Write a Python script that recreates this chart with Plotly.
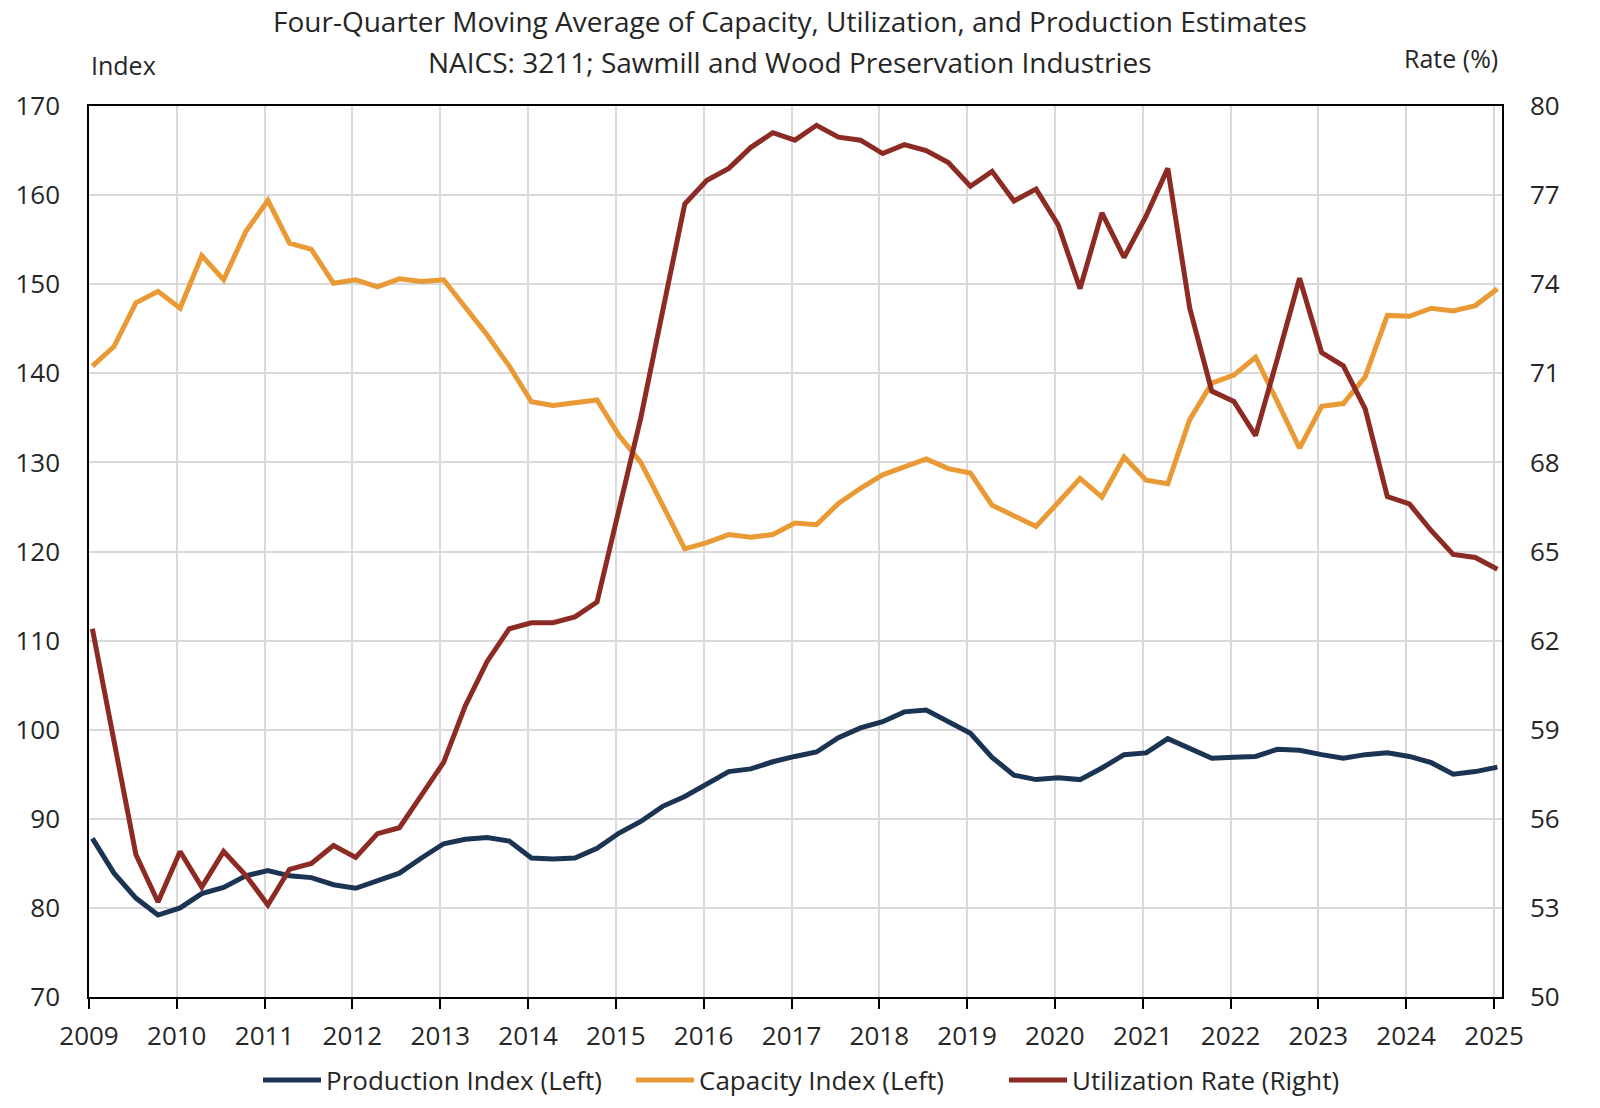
import pandas as pd
import plotly.graph_objects as go

# ---------------- data (four-quarter moving averages, 2009Q1 .. 2025Q1) ----------------
first_quarter = "2009-01-01"
last_quarter = "2025-01-01"

production = [
    87.8, 83.9, 81.1, 79.2,
    80.0, 81.6, 82.3, 83.6,
    84.2, 83.6, 83.4, 82.6,
    82.2, 83.0, 83.9, 85.6,
    87.2, 87.7, 87.9, 87.5,
    85.6, 85.5, 85.6, 86.7,
    88.4, 89.7, 91.4, 92.5,
    93.9, 95.3, 95.6, 96.4,
    97.0, 97.5, 99.1, 100.2,
    100.9, 102.0, 102.2, 100.9,
    99.6, 96.9, 94.9, 94.4,
    94.6, 94.4, 95.7, 97.2,
    97.4, 99.0, 97.9, 96.8,
    96.9, 97.0, 97.8, 97.7,
    97.2, 96.8, 97.2, 97.4,
    97.0, 96.3, 95.0, 95.3,
    95.8,
]

capacity = [
    140.8, 143.0, 147.9, 149.2,
    147.3, 153.2, 150.5, 155.9,
    159.4, 154.6, 153.9, 150.1,
    150.5, 149.7, 150.6, 150.3,
    150.5, 147.5, 144.3, 140.8,
    136.8, 136.4, 136.7, 137.0,
    133.0, 130.0, 125.2, 120.3,
    121.0, 121.9, 121.6, 121.9,
    123.2, 123.0, 125.4, 127.1,
    128.6, 129.5, 130.4, 129.3,
    128.8, 125.2, 124.0, 122.8,
    125.5, 128.2, 126.1, 130.6,
    128.0, 127.6, 134.8, 138.9,
    139.8, 141.8, 136.8, 131.6,
    136.3, 136.6, 139.6, 146.5,
    146.4, 147.3, 147.0, 147.6,
    149.5,
]

utilization = [
    62.4, 58.7, 54.8, 53.2,
    54.9, 53.7, 54.9, 54.1,
    53.1, 54.3, 54.5, 55.1,
    54.7, 55.5, 55.7, 56.8,
    57.9, 59.8, 61.3, 62.4,
    62.6, 62.6, 62.8, 63.3,
    66.5, 69.5, 73.1, 76.7,
    77.5, 77.9, 78.6, 79.1,
    78.85, 79.35, 78.95, 78.85,
    78.4, 78.7, 78.5, 78.1,
    77.3, 77.8, 76.8, 77.2,
    76.0, 73.85, 76.4, 74.9,
    76.3, 77.9, 73.2, 70.4,
    70.05, 68.9, 71.5, 74.2,
    71.7, 71.25, 69.8, 66.85,
    66.6, 65.7, 64.9, 64.8,
    64.4,
]

series_names = ["Production Index (Left)", "Capacity Index (Left)", "Utilization Rate (Right)"]

title_line1 = "Four-Quarter Moving Average of Capacity, Utilization, and Production Estimates"
title_line2 = "NAICS: 3211; Sawmill and Wood Preservation Industries"
left_axis_label = "Index"
right_axis_label = "Rate (%)"

# quarterly dates (points sit mid-month of each quarter's first month)
quarters = pd.date_range(first_quarter, last_quarter, freq="QS") + pd.Timedelta(days=14)

# ---------------- styling ----------------
FONT = "Open Sans"
TXT = "#262626"
GRID = "#D9D9D9"
C_PROD = "#1B3453"
C_CAP = "#EA9A34"
C_UTIL = "#8C2B24"
LW = 5

W, H = 1600, 1108
ML, MR, MT, MB = 89, 98, 106, 111
PH = H - MT - MB
PW = W - ML - MR


def py(px_from_top):
    """paper y for a pixel row measured from the top of the page"""
    return 1 + (MT - px_from_top) / PH


def pxx(px_from_left):
    return (px_from_left - ML) / PW


fig = go.Figure()
fig.add_trace(go.Scatter(x=quarters, y=production, name=series_names[0], mode="lines",
                         line=dict(color=C_PROD, width=LW), yaxis="y"))
fig.add_trace(go.Scatter(x=quarters, y=capacity, name=series_names[1], mode="lines",
                         line=dict(color=C_CAP, width=LW), yaxis="y"))
fig.add_trace(go.Scatter(x=quarters, y=utilization, name=series_names[2], mode="lines",
                         line=dict(color=C_UTIL, width=LW), yaxis="y2"))

fig.update_layout(
    width=W, height=H,
    margin=dict(l=ML, r=MR, t=MT, b=MB, pad=0, autoexpand=False),
    paper_bgcolor="white", plot_bgcolor="white",
    font=dict(family=FONT, size=26, color=TXT),
    showlegend=True,
    legend=dict(orientation="h", x=pxx(258), xanchor="left", y=py(1080), yanchor="middle",
                font=dict(family=FONT, size=26, color=TXT), itemwidth=58,
                entrywidth=300, entrywidthmode="pixels",
                bgcolor="rgba(0,0,0,0)", tracegroupgap=0, traceorder="normal"),
    xaxis=dict(
        type="date",
        range=["2009-01-01", "2025-02-03"],
        tick0="2009-01-01", dtick="M12", tickformat="%Y",
        showgrid=True, gridcolor=GRID, gridwidth=1.5,
        ticks="outside", ticklen=10, tickwidth=1.5, tickcolor="black",
        showline=True, linecolor="black", linewidth=1.5, mirror=True,
        tickfont=dict(family=FONT, size=26, color=TXT),
        ticklabelstandoff=5,
        zeroline=False,
    ),
    yaxis=dict(
        range=[70, 170], dtick=10, tick0=70,
        showgrid=True, gridcolor=GRID, gridwidth=1.5,
        showline=True, linecolor="black", linewidth=1.5, mirror=True,
        ticks="", tickfont=dict(family=FONT, size=26, color=TXT),
        ticklabelstandoff=22, zeroline=False,
    ),
    yaxis2=dict(
        range=[50, 80], dtick=3, tick0=50,
        overlaying="y", side="right",
        showgrid=False, showline=True, linecolor="black", linewidth=1.5,
        ticks="", tickfont=dict(family=FONT, size=26, color=TXT),
        ticklabelstandoff=21, zeroline=False,
    ),
    annotations=[
        dict(text=title_line1, xref="paper", yref="paper", x=pxx(790), y=py(21),
             xanchor="center", yanchor="middle", showarrow=False,
             font=dict(family=FONT, size=28, color=TXT)),
        dict(text=title_line2, xref="paper", yref="paper", x=pxx(790), y=py(62),
             xanchor="center", yanchor="middle", showarrow=False,
             font=dict(family=FONT, size=28, color=TXT)),
        dict(text=left_axis_label, xref="paper", yref="paper", x=pxx(89), y=py(65),
             xanchor="left", yanchor="middle", showarrow=False,
             font=dict(family=FONT, size=25, color=TXT)),
        dict(text=right_axis_label, xref="paper", yref="paper", x=pxx(1500), y=py(58),
             xanchor="right", yanchor="middle", showarrow=False,
             font=dict(family=FONT, size=25, color=TXT)),
    ],
)

fig.write_html("out.html", config={"displayModeBar": False},
               post_script="document.body.style.margin='0px';document.body.style.overflow='hidden';")
